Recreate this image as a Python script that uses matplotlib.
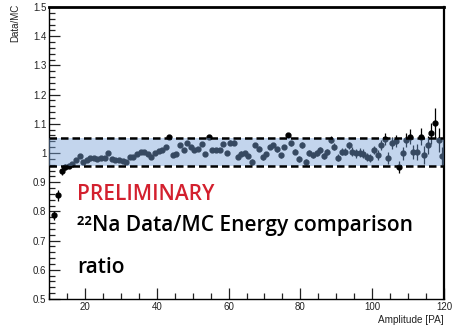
import numpy as np
import matplotlib
matplotlib.use("Agg")
import matplotlib.pyplot as plt
from matplotlib.ticker import MultipleLocator, FixedLocator, FuncFormatter

# ---- data ----
amplitude = np.arange(11.5, 120.0, 1.0)  # bin centres [PA]
ratio = [
    0.787, 0.855, 0.940, 0.953, 0.955, 0.962, 0.975, 0.990, 0.970, 0.975,
    0.982, 0.982, 0.980, 0.982, 0.984, 0.999, 0.980, 0.975, 0.975, 0.972,
    0.970, 0.985, 0.985, 0.998, 1.002, 1.002, 0.995, 0.987, 0.999, 1.006,
    1.010, 1.020, 1.054, 0.993, 0.998, 1.027, 1.010, 1.033, 1.020, 1.010,
    1.015, 1.030, 0.997, 1.054, 1.010, 1.010, 1.010, 1.030, 1.000, 1.035,
    1.035, 0.987, 0.998, 0.999, 0.990, 0.970, 1.027, 1.015, 0.985, 0.997,
    1.020, 1.027, 1.012, 0.992, 1.020, 1.060, 1.033, 1.005, 0.980, 1.027,
    0.970, 1.000, 0.994, 1.001, 1.009, 0.990, 1.004, 1.045, 1.022, 0.983,
    1.004, 1.004, 1.027, 1.004, 0.999, 1.001, 0.997, 0.986, 0.983, 1.010,
    0.993, 1.027, 1.049, 0.983, 1.035, 1.042, 0.952, 0.999, 1.045, 1.056,
    1.004, 1.004, 1.056, 0.993, 1.027, 1.067, 1.103, 1.045, 0.990,
]
ratio_err = [
    0.015, 0.020, 0.015, 0.010, 0.006, 0.005, 0.005, 0.005, 0.005, 0.005,
    0.005, 0.005, 0.005, 0.005, 0.005, 0.005, 0.005, 0.005, 0.005, 0.005,
    0.005, 0.005, 0.005, 0.005, 0.005, 0.005, 0.005, 0.005, 0.006, 0.006,
    0.006, 0.006, 0.006, 0.006, 0.006, 0.006, 0.006, 0.006, 0.006, 0.006,
    0.006, 0.006, 0.006, 0.006, 0.006, 0.006, 0.006, 0.006, 0.008, 0.008,
    0.008, 0.008, 0.008, 0.008, 0.008, 0.008, 0.008, 0.008, 0.008, 0.008,
    0.008, 0.008, 0.008, 0.008, 0.008, 0.008, 0.008, 0.008, 0.010, 0.010,
    0.010, 0.010, 0.010, 0.010, 0.010, 0.010, 0.010, 0.012, 0.012, 0.012,
    0.012, 0.012, 0.012, 0.015, 0.015, 0.015, 0.015, 0.015, 0.015, 0.015,
    0.018, 0.018, 0.020, 0.020, 0.020, 0.020, 0.020, 0.022, 0.025, 0.025,
    0.025, 0.028, 0.030, 0.030, 0.030, 0.035, 0.050, 0.040, 0.030,
]
band_low, band_high = 0.955, 1.052
x_range = (10, 120)
y_range = (0.5, 1.5)

W, H = 455, 326
fig = plt.figure(figsize=(W / 100, H / 100), dpi=100)
ax = fig.add_axes([49 / W, 1 - 299 / H, (444 - 49) / W, (299 - 7) / H])

ax.errorbar(amplitude, ratio, yerr=ratio_err, fmt='o', color='black',
            ms=3.5, elinewidth=0.9, capsize=0, zorder=2)

ax.fill_between(x_range, band_low, band_high, color='#7aa3d8', alpha=0.45,
                lw=0, zorder=3)
for yv in (band_low, band_high):
    ax.plot(x_range, [yv, yv], color='black', lw=1.8, ls=(0, (3, 1.6)),
            zorder=4, solid_capstyle='butt')

ax.set_xlim(*x_range)
ax.set_ylim(*y_range)

ax.xaxis.set_major_locator(FixedLocator([20, 40, 60, 80, 100, 120]))
ax.xaxis.set_minor_locator(MultipleLocator(5))
ax.yaxis.set_major_locator(MultipleLocator(0.1))
ax.yaxis.set_minor_locator(MultipleLocator(0.02))
ax.yaxis.set_major_formatter(FuncFormatter(lambda v, p: ('%g' % round(v, 2))))

ax.tick_params(which='both', direction='in', top=False, right=False,
               labelsize=7, pad=2, colors='#222222', labelcolor='#222222')
ax.tick_params(which='major', length=8, width=0.9)
ax.tick_params(which='minor', length=4, width=0.9)
for lab in ax.get_xticklabels() + ax.get_yticklabels():
    lab.set_family('Liberation Sans')

for s in ax.spines.values():
    s.set_linewidth(1.0)
ax.spines['top'].set_linewidth(2.0)
ax.spines['right'].set_linewidth(1.6)

fig.text(15 / W, 1 - 4 / H, 'Data/MC', rotation=90, ha='center', va='top',
         fontsize=7, family='Liberation Sans', color='#222222')
fig.text(444 / W, 1 - 323 / H, 'Amplitude [PA]', ha='right', va='baseline',
         fontsize=7.2, family='Liberation Sans', color='#222222')

fig.text(77 / W, 1 - 200.5 / H, 'PRELIMINARY', ha='left', va='baseline',
         fontsize=15, family='Open Sans', fontweight='semibold',
         color='#d3202e')
fig.text(77 / W, 1 - 231 / H, '²²Na Data/MC Energy comparison', ha='left',
         va='baseline', fontsize=15, family='Open Sans',
         fontweight='semibold', color='black')
fig.text(77 / W, 1 - 273 / H, 'ratio', ha='left', va='baseline',
         fontsize=15, family='Open Sans', fontweight='semibold',
         color='black')

fig.savefig('out.png', dpi=100, facecolor='white')
